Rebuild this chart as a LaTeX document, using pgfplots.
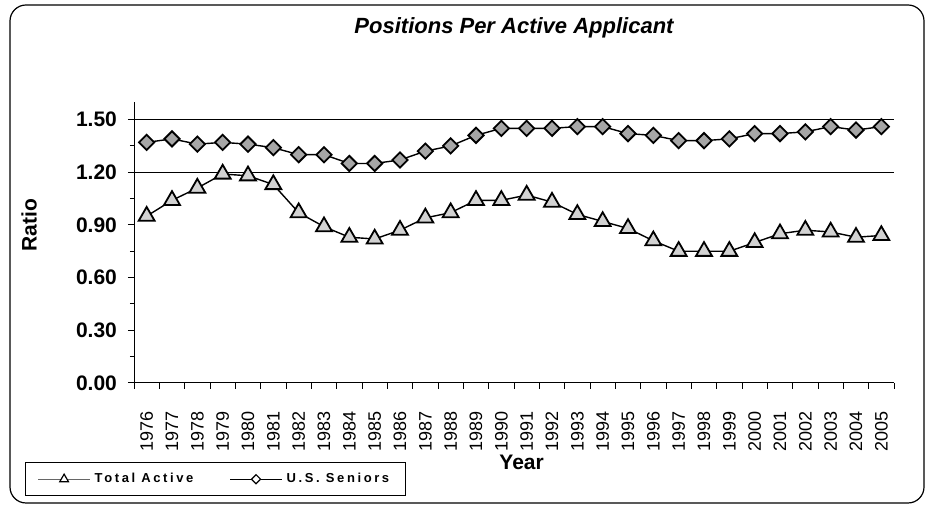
\documentclass[border=0pt]{standalone}
\usepackage{pgfplots}
\pgfplotsset{compat=1.18}
\usepackage{fontspec}
\setmainfont{Liberation Sans}
\newfontfamily\legfont{Liberation Sans}[LetterSpace=20]

\begin{document}
\begin{tikzpicture}
\useasboundingbox (0,0) rectangle (463.5pt,254pt);
\draw[rounded corners=8pt, line width=0.6pt] (5pt,2.5pt) rectangle (462pt,251.5pt);
\begin{axis}[
    at={(67pt,62.5pt)}, anchor=south west,
    scale only axis, width=380pt, height=140.5pt,
    xmin=-0.5, xmax=29.5, ymin=0, ymax=1.6,
    axis x line*=bottom, axis y line*=left,
    axis line style={-, black, line width=0.5pt},
    xtick={-0.5,0.5,...,29.5},
    x tick label as interval,
    xticklabels={1976,1977,1978,1979,1980,1981,1982,1983,1984,1985,1986,1987,1988,1989,1990,
                 1991,1992,1993,1994,1995,1996,1997,1998,1999,2000,2001,2002,2003,2004,2005},
    xticklabel style={rotate=90, anchor=east, font=\fontsize{9}{10}\selectfont},
    xticklabel shift=7.5pt,
    ytick={0,0.3,0.6,0.9,1.2,1.5},
    minor y tick num=1,
    yticklabel style={font=\fontsize{10.5}{12}\selectfont\bfseries,
        /pgf/number format/.cd, fixed, fixed zerofill, precision=2, assume math mode=true},
    yticklabel shift=2pt,
    tick align=outside, major tick length=3pt, minor tick length=2pt,
    tick style={black, line width=0.5pt},
    extra y ticks={1.2,1.5}, extra y tick labels={},
    extra y tick style={grid=major, major tick length=0pt},
    grid style={black, line width=0.5pt},
    every axis title shift=0pt,
    title={\itshape Positions Per Active Applicant},
    title style={at={(axis description cs:0.5,1.2655)}, anchor=center,
        font=\fontsize{11}{13}\selectfont\bfseries},
    xlabel={Year},
    xlabel style={at={(axis description cs:0.51,-0.281)}, anchor=center,
        font=\fontsize{10.5}{12}\selectfont\bfseries},
    ylabel={Ratio},
    ylabel style={at={(axis description cs:-0.138,0.562)}, anchor=center,
        font=\fontsize{10.5}{12}\selectfont\bfseries},
    legend columns=2,
    legend style={at={(axis description cs:-0.1434,-0.4017)}, anchor=south west,
        draw=black, line width=0.5pt, inner xsep=6pt, inner ysep=3pt,
        font=\legfont\bfseries\fontsize{6.5}{8}\selectfont,
        /tikz/every even column/.append style={column sep=16pt}},
    legend image code/.code={\draw[mark repeat=2, mark phase=2]
        plot coordinates {(0pt,0pt) (13pt,0pt) (26pt,0pt)};},
]
\addplot[forget plot, black, line width=0.7pt, mark=triangle*, mark size=4.6pt,
    mark options={fill=gray!35, draw=black, line width=0.9pt}] coordinates {
    (0,0.95) (1,1.04) (2,1.11) (3,1.19) (4,1.18) (5,1.13) (6,0.97) (7,0.89) (8,0.83) (9,0.82)
    (10,0.87) (11,0.94) (12,0.97) (13,1.04) (14,1.04) (15,1.07) (16,1.03) (17,0.96) (18,0.92) (19,0.88)
    (20,0.81) (21,0.75) (22,0.75) (23,0.75) (24,0.80) (25,0.85) (26,0.87) (27,0.86) (28,0.83) (29,0.84)
};
\addplot[forget plot, black, line width=0.7pt, mark=square*, mark size=2.7pt,
    mark options={rotate=45, fill=gray!70, draw=black, line width=0.9pt}] coordinates {
    (0,1.37) (1,1.39) (2,1.36) (3,1.37) (4,1.36) (5,1.34) (6,1.30) (7,1.30) (8,1.25) (9,1.25)
    (10,1.27) (11,1.32) (12,1.35) (13,1.41) (14,1.45) (15,1.45) (16,1.45) (17,1.46) (18,1.46) (19,1.42)
    (20,1.41) (21,1.38) (22,1.38) (23,1.39) (24,1.42) (25,1.42) (26,1.43) (27,1.46) (28,1.44) (29,1.46)
};
\addlegendimage{gray!80!black, line width=0.6pt, mark=triangle*, mark size=2.5pt,
    mark options={fill=white, draw=black, line width=0.6pt}}
\addlegendentry{Total Active}
\addlegendimage{black, line width=0.6pt, mark=square*, mark size=1.6pt,
    mark options={rotate=45, fill=white, draw=black, line width=0.6pt}}
\addlegendentry{U.S. Seniors}
\end{axis}
\end{tikzpicture}
\end{document}
